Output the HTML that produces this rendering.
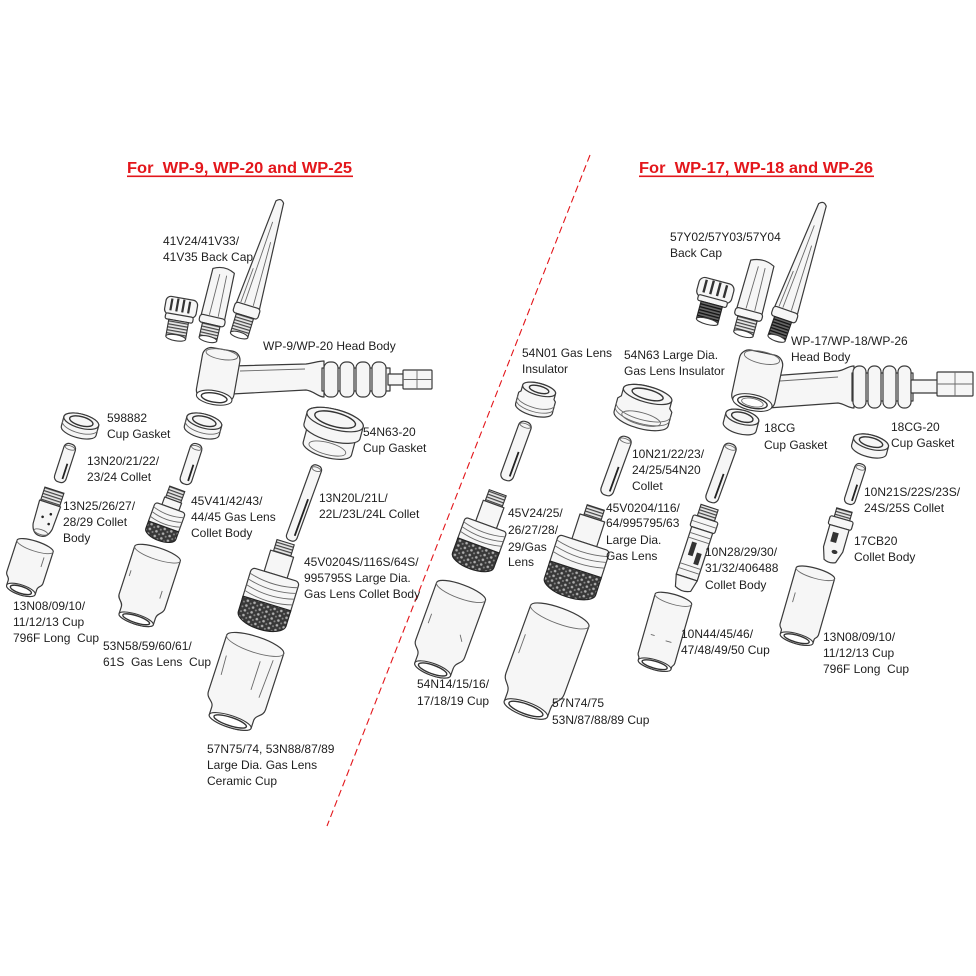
<!DOCTYPE html>
<html><head><meta charset="utf-8"><style>
html,body{margin:0;padding:0;background:#fff;}
svg{display:block}
text{font-family:"Liberation Sans",sans-serif;font-size:12px;fill:#1e1e1e;white-space:pre}
.t{font-size:16px;font-weight:bold;fill:#e3161b}
.p{fill:#f6f6f6;stroke:#3a3a3a;stroke-width:1.2;stroke-linejoin:round}
.w{fill:#fff;stroke:#3a3a3a;stroke-width:1.1}
.l{fill:none;stroke:#6a6a6a;stroke-width:0.9}
.k{fill:none;stroke:#333;stroke-width:1.4}
.th{fill:url(#thr);stroke:#333;stroke-width:1.1}
.thd{fill:url(#thd);stroke:#222;stroke-width:1.1}
.dk{fill:url(#scr);stroke:#222;stroke-width:1.1}
.sl{stroke:#222;stroke-width:1.8;fill:none}
</style></head><body>
<svg width="976" height="976" viewBox="0 0 976 976" xmlns="http://www.w3.org/2000/svg" xml:space="preserve">
<defs>
<pattern id="thr" patternUnits="userSpaceOnUse" width="6" height="3"><rect width="6" height="3" fill="#e6e6e6"/><rect width="6" height="1.2" fill="#444"/></pattern>
<pattern id="thd" patternUnits="userSpaceOnUse" width="6" height="3"><rect width="6" height="3" fill="#666"/><rect width="6" height="1.3" fill="#111"/></pattern>
<pattern id="scr" patternUnits="userSpaceOnUse" width="7" height="5"><rect width="7" height="5" fill="#383838"/><circle cx="2" cy="2" r="1.3" fill="#b0b0b0"/><circle cx="5.5" cy="4" r="1" fill="#888"/></pattern>
</defs>
<rect width="976" height="976" fill="#fff"/>

<!-- titles -->
<text class="t" x="127" y="173" textLength="225" lengthAdjust="spacingAndGlyphs">For  WP-9, WP-20 and WP-25</text>
<rect x="127" y="175.5" width="226" height="1.6" fill="#e3161b"/>
<text class="t" x="639" y="173" textLength="234" lengthAdjust="spacingAndGlyphs">For  WP-17, WP-18 and WP-26</text>
<rect x="639" y="175.5" width="235" height="1.6" fill="#e3161b"/>

<!-- divider -->
<line x1="590" y1="155" x2="327" y2="826" stroke="#e3161b" stroke-width="1.1" stroke-dasharray="7 4"/>

<!-- ===== LEFT SIDE ===== -->
<g transform="translate(259,270) rotate(17)">
<path class="p" d="M-4,-71 Q0,-76 4,-71 L12,38 L-12,38 Z"/>
<path class="l" d="M-1,-50 L-4,36 M3,-30 L5,36 M-6,0 L-8,36"/>
<rect class="p" x="-13" y="37" width="26" height="11" rx="3"/>
<rect class="th" x="-9" y="48" width="18" height="20"/>
<ellipse class="w" cx="0" cy="68" rx="9" ry="3"/>
</g>
<g transform="translate(216,304) rotate(13)">
<path class="p" d="M-11,-34 Q0,-40 11,-34 L12,14 L-12,14 Z"/>
<path class="l" d="M-3,-30 L-4,12 M4,-30 L5,12"/>
<rect class="p" x="-13" y="13" width="26" height="8" rx="3"/>
<rect class="th" x="-9" y="21" width="18" height="15"/>
<ellipse class="w" cx="0" cy="36" rx="9" ry="3"/>
</g>
<g transform="translate(179,319) rotate(10)">
<rect class="p" x="-16" y="-21" width="32" height="18" rx="5"/>
<path d="M-10,-19 v12 M-4,-20 v13 M2,-20 v13 M8,-19 v12" stroke="#333" stroke-width="2.2"/>
<rect class="p" x="-14" y="-4" width="28" height="6" rx="2"/>
<rect class="th" x="-10" y="2" width="20" height="17"/>
<ellipse class="w" cx="0" cy="19" rx="10" ry="3"/>
</g>
<!-- head body left -->
<path class="p" d="M232,366 L306,364 C314,363 318,361 324,361 L324,397 C318,397 314,391 306,390 L232,394 Z"/>
<path class="l" d="M240,371 L305,369"/>
<rect class="p" x="322" y="368" width="68" height="23"/>
<rect class="p" x="324" y="362" width="14" height="35" rx="6"/>
<rect class="p" x="340" y="362" width="14" height="35" rx="6"/>
<rect class="p" x="356" y="362" width="14" height="35" rx="6"/>
<rect class="p" x="372" y="362" width="14" height="35" rx="6"/>
<rect class="p" x="388" y="374" width="16" height="11"/>
<rect class="p" x="403" y="370" width="29" height="19" rx="1"/>
<path class="l" d="M403,379.5 L432,379.5 M417,370 L417,389"/>
<g transform="translate(218,376) rotate(10)">
<rect class="p" x="-19" y="-27" width="38" height="52" rx="9"/>
<ellipse class="l" cx="0" cy="-22" rx="16" ry="5"/>
<ellipse class="w" cx="0" cy="22" rx="18" ry="7"/>
<ellipse class="k" cx="0" cy="22" rx="13" ry="4.5"/>
</g>

<!-- column 1 -->
<g transform="translate(80,426) rotate(15)">
<path class="p" d="M-18,-5 L-18,5 A18,7 0 0 0 18,5 L18,-5 A18,7 0 0 0 -18,-5 Z"/>
<ellipse class="p" cx="0" cy="-5" rx="18" ry="7"/>
<ellipse class="k" cx="0" cy="-5" rx="12" ry="4.5"/>
<path class="l" d="M-18,0 A18,7 0 0 0 18,0"/>
</g>
<g transform="translate(65,463) rotate(18)">
<rect class="p" x="-6" y="-20" width="12" height="40" rx="5"/>
<ellipse class="l" cx="0" cy="-16" rx="5" ry="2"/>
<path class="sl" d="M2.5,0 L2.5,16"/>
</g>
<g transform="translate(47,513) rotate(18)">
<rect class="th" x="-10" y="-24" width="20" height="14"/>
<path class="p" d="M-11,-10 L11,-10 L10,14 Q8,24 0,24 Q-8,24 -10,14 Z"/>
<circle cx="4" cy="0" r="1.3" fill="#222"/><circle cx="-3" cy="5" r="1.3" fill="#222"/><circle cx="5" cy="10" r="1.3" fill="#222"/>
<ellipse class="l" cx="0" cy="20" rx="7" ry="2.5"/>
</g>
<g transform="translate(28,568) rotate(18)">
<path class="p" d="M-19,-23 A19,5 0 0 1 19,-23 L19,10 C19,14 15,14 15,18 L15,23 A15,5 0 0 1 -15,23 L-15,18 C-15,14 -19,14 -19,10 Z"/>
<path class="l" d="M-19,-23 A19,5 0 0 0 19,-23 M12,-15 L12,-5"/>
<ellipse class="w" cx="0" cy="23" rx="15" ry="5"/>
<ellipse class="k" cx="0" cy="23" rx="11" ry="3.5"/>
</g>

<!-- column 2 -->
<g transform="translate(203,426) rotate(15)">
<path class="p" d="M-18,-5 L-18,5 A18,7 0 0 0 18,5 L18,-5 A18,7 0 0 0 -18,-5 Z"/>
<ellipse class="p" cx="0" cy="-5" rx="18" ry="7"/>
<ellipse class="k" cx="0" cy="-5" rx="12" ry="4.5"/>
<path class="l" d="M-18,0 A18,7 0 0 0 18,0"/>
</g>
<g transform="translate(191,464) rotate(18)">
<rect class="p" x="-6" y="-21" width="12" height="42" rx="5"/>
<ellipse class="l" cx="0" cy="-17" rx="5" ry="2"/>
<path class="sl" d="M2.5,0 L2.5,17"/>
</g>
<g transform="translate(167,517) rotate(20)">
<rect class="th" x="-8" y="-30" width="16" height="12"/>
<rect class="p" x="-9" y="-18" width="18" height="8"/>
<rect class="p" x="-16" y="-10" width="32" height="22" rx="3"/>
<path class="l" d="M-16,-5 Q0,0 16,-5 M-16,0 Q0,5 16,0 M-16,5 Q0,10 16,5"/>
<path class="dk" d="M-16,10 L-16,18 A16,7 0 0 0 16,18 L16,10 Z"/>
</g>
<g transform="translate(147,586) rotate(18)">
<path class="p" d="M-24,-34 A24,6 0 0 1 24,-34 L24,16 C24,22 18,22 18,28 L18,35 A18,5 0 0 1 -18,35 L-18,28 C-18,22 -24,22 -24,16 Z"/>
<path class="l" d="M-24,-34 A24,6 0 0 0 24,-34 M-20,-10 L-20,-4 M16,0 L16,8"/>
<ellipse class="w" cx="0" cy="35" rx="18" ry="5"/>
<ellipse class="k" cx="0" cy="35" rx="14" ry="3.5"/>
</g>

<!-- column 3 -->
<g transform="translate(331,435) rotate(15)">
<path class="p" d="M-25,-4 L-25,14 A25,9 0 0 0 25,14 L25,-4 Z"/>
<path class="p" d="M-29,-16 L-29,-4 A29,10 0 0 0 29,-4 L29,-16 A29,10 0 0 0 -29,-16 Z"/>
<ellipse class="p" cx="0" cy="-16" rx="29" ry="10"/>
<ellipse class="k" cx="0" cy="-16" rx="21" ry="7"/>
<ellipse class="l" cx="0" cy="14" rx="19" ry="6"/>
</g>
<g transform="translate(304,503) rotate(20)">
<rect class="p" x="-5.5" y="-40" width="11" height="80" rx="4.5"/>
<ellipse class="l" cx="0" cy="-36" rx="4.5" ry="2"/>
<path class="sl" d="M2.5,-5 L2.5,34"/>
</g>
<g transform="translate(271,590) rotate(17)">
<rect class="th" x="-9" y="-50" width="18" height="12"/>
<rect class="p" x="-12" y="-38" width="24" height="22"/>
<rect class="p" x="-25" y="-16" width="50" height="36" rx="4"/>
<path class="l" d="M-25,-10 Q0,-3 25,-10 M-25,-4 Q0,3 25,-4 M-25,2 Q0,9 25,2 M-25,8 Q0,15 25,8"/>
<path class="dk" d="M-25,14 L-25,30 A25,11 0 0 0 25,30 L25,14 Z"/>
</g>
<g transform="translate(243,682) rotate(18)">
<path class="p" d="M-30,-39.5 A30,8 0 0 1 30,-39.5 L30,19.5 C30,27 22,27 22,33.5 L22,41.5 A22,6 0 0 1 -22,41.5 L-22,33.5 C-22,27 -30,27 -30,19.5 Z"/>
<path class="l" d="M-30,-39.5 A30,8 0 0 0 30,-39.5 M22,-30 L20,10 M-24,-20 L-23,0 M10,-25 L10,5"/>
<ellipse class="w" cx="0" cy="41.5" rx="22" ry="6"/>
<ellipse class="k" cx="0" cy="41.5" rx="17" ry="4.2"/>
</g>

<!-- left labels -->
<text x="163" y="245">41V24/41V33/</text>
<text x="163" y="261">41V35 Back Cap</text>
<text x="263" y="350">WP-9/WP-20 Head Body</text>
<text x="107" y="422">598882</text>
<text x="107" y="438">Cup Gasket</text>
<text x="87" y="465">13N20/21/22/</text>
<text x="87" y="481">23/24 Collet</text>
<text x="63" y="510">13N25/26/27/</text>
<text x="63" y="526">28/29 Collet</text>
<text x="63" y="542">Body</text>
<text x="13" y="610">13N08/09/10/</text>
<text x="13" y="626">11/12/13 Cup</text>
<text x="13" y="642">796F Long  Cup</text>
<text x="191" y="505">45V41/42/43/</text>
<text x="191" y="521">44/45 Gas Lens</text>
<text x="191" y="537">Collet Body</text>
<text x="103" y="650">53N58/59/60/61/</text>
<text x="103" y="666">61S  Gas Lens  Cup</text>
<text x="363" y="436">54N63-20</text>
<text x="363" y="452">Cup Gasket</text>
<text x="319" y="502">13N20L/21L/</text>
<text x="319" y="518">22L/23L/24L Collet</text>
<text x="304" y="566">45V0204S/116S/64S/</text>
<text x="304" y="582">995795S Large Dia.</text>
<text x="304" y="598">Gas Lens Collet Body</text>
<text x="207" y="753">57N75/74, 53N88/87/89</text>
<text x="207" y="769">Large Dia. Gas Lens</text>
<text x="207" y="785">Ceramic Cup</text>

<!-- ===== RIGHT SIDE ===== -->
<g transform="translate(799,273) rotate(19)">
<path class="p" d="M-4,-72 Q0,-77 4,-72 L12,40 L-12,40 Z"/>
<path class="l" d="M-1,-50 L-4,38 M3,-30 L5,38 M-6,0 L-8,38"/>
<rect class="p" x="-13" y="39" width="26" height="10" rx="3"/>
<rect class="thd" x="-9" y="49" width="18" height="20"/>
<ellipse class="w" cx="0" cy="69" rx="9" ry="3"/>
</g>
<g transform="translate(753,298) rotate(15)">
<path class="p" d="M-12,-36 Q0,-42 12,-36 L13,14 L-13,14 Z"/>
<path class="l" d="M-3,-32 L-4,12 M4,-32 L5,12"/>
<rect class="p" x="-14" y="13" width="28" height="8" rx="3"/>
<rect class="th" x="-10" y="21" width="20" height="16"/>
<ellipse class="w" cx="0" cy="37" rx="10" ry="3"/>
</g>
<g transform="translate(712,303) rotate(15)">
<rect class="p" x="-18" y="-23" width="36" height="20" rx="6"/>
<path d="M-11,-21 v13 M-4,-22 v14 M3,-22 v14 M10,-21 v13" stroke="#333" stroke-width="2.4"/>
<rect class="p" x="-15" y="-5" width="30" height="6" rx="2"/>
<rect class="thd" x="-11" y="1" width="22" height="18"/>
<ellipse class="w" cx="0" cy="19" rx="11" ry="3"/>
</g>
<!-- head body right -->
<path class="p" d="M770,376 L838,371 C845,370 848,366 854,366 L854,408 C848,408 845,404 838,403 L768,408 Z"/>
<path class="l" d="M780,381 L838,377"/>
<rect class="p" x="852" y="373" width="61" height="28"/>
<rect class="p" x="853" y="366" width="13" height="42" rx="6"/>
<rect class="p" x="868" y="366" width="13" height="42" rx="6"/>
<rect class="p" x="883" y="366" width="13" height="42" rx="6"/>
<rect class="p" x="898" y="366" width="13" height="42" rx="6"/>
<rect class="p" x="911" y="380" width="28" height="13"/>
<rect class="p" x="937" y="372" width="36" height="24" rx="1"/>
<path class="l" d="M937,384 L973,384 M955,372 L955,396"/>
<g transform="translate(757,381) rotate(12)">
<rect class="p" x="-22" y="-29" width="44" height="56" rx="10"/>
<ellipse class="l" cx="0" cy="-24" rx="18" ry="6"/>
<ellipse class="w" cx="0" cy="22" rx="20" ry="8"/>
<ellipse class="k" cx="0" cy="22" rx="15" ry="5.5"/>
<ellipse class="l" cx="0" cy="22" rx="11" ry="4"/>
</g>

<!-- 54N01 column -->
<g transform="translate(536,401) rotate(15)">
<path class="p" d="M-17,-12 L-17,-6 L-19,-4 L-19,8 A19,7 0 0 0 19,8 L19,-4 L17,-6 L17,-12 A17,6 0 0 0 -17,-12 Z"/>
<ellipse class="p" cx="0" cy="-12" rx="17" ry="6"/>
<ellipse class="k" cx="0" cy="-12" rx="10" ry="3.5"/>
<path class="l" d="M-19,0 A19,7 0 0 0 19,0 M-19,4 A19,7 0 0 0 19,4"/>
</g>
<g transform="translate(516,451) rotate(20)">
<rect class="p" x="-6.5" y="-31" width="13" height="62" rx="5.5"/>
<ellipse class="l" cx="0" cy="-27" rx="5.5" ry="2"/>
<path class="sl" d="M2.8,0 L2.8,26"/>
</g>
<g transform="translate(482,536) rotate(20)">
<rect class="th" x="-9" y="-46" width="18" height="12"/>
<rect class="p" x="-11" y="-34" width="22" height="22"/>
<rect class="p" x="-22" y="-12" width="44" height="26" rx="3"/>
<path class="l" d="M-22,-7 Q0,-1 22,-7 M-22,-2 Q0,4 22,-2 M-22,3 Q0,9 22,3"/>
<path class="dk" d="M-22,10 L-22,26 A22,9 0 0 0 22,26 L22,10 Z"/>
</g>
<g transform="translate(447,630) rotate(20)">
<path class="p" d="M-26,-41 A26,7 0 0 1 26,-41 L26,20 C26,27 19,27 19,34 L19,42 A19,6 0 0 1 -19,42 L-19,34 C-19,27 -26,27 -26,20 Z"/>
<path class="l" d="M-26,-41 A26,7 0 0 0 26,-41 M14,0 L18,6 M-20,-10 L-20,0"/>
<ellipse class="w" cx="0" cy="42" rx="19" ry="6"/>
<ellipse class="k" cx="0" cy="42" rx="15" ry="4.3"/>
</g>

<!-- 54N63 column -->
<g transform="translate(644,408) rotate(15)">
<path class="p" d="M-25,-14 L-25,-6 L-28,-3 L-28,11 A28,10 0 0 0 28,11 L28,-3 L25,-6 L25,-14 A25,8 0 0 0 -25,-14 Z"/>
<ellipse class="p" cx="0" cy="-14" rx="25" ry="8"/>
<ellipse class="k" cx="0" cy="-14" rx="16" ry="5"/>
<path class="l" d="M-28,2 A28,10 0 0 0 28,2 M-28,6 A28,10 0 0 0 28,6"/>
<ellipse class="l" cx="0" cy="11" rx="20" ry="6"/>
</g>
<g transform="translate(616,466) rotate(20)">
<rect class="p" x="-6.5" y="-31" width="13" height="62" rx="5.5"/>
<ellipse class="l" cx="0" cy="-27" rx="5.5" ry="2"/>
<path class="sl" d="M2.8,0 L2.8,26"/>
</g>
<g transform="translate(580,556) rotate(18)">
<rect class="th" x="-9" y="-51" width="18" height="11"/>
<rect class="p" x="-13" y="-40" width="26" height="26"/>
<rect class="p" x="-27" y="-14" width="54" height="34" rx="4"/>
<path class="l" d="M-27,-8 Q0,-1 27,-8 M-27,-2 Q0,5 27,-2 M-27,4 Q0,11 27,4"/>
<path class="dk" d="M-27,14 L-27,32 A27,11 0 0 0 27,32 L27,14 Z"/>
</g>
<g transform="translate(543,662) rotate(20)">
<path class="p" d="M-31,-49 A31,8 0 0 1 31,-49 L31,23 C31,32 23,32 23,41 L23,50 A23,7 0 0 1 -23,50 L-23,41 C-23,32 -31,32 -31,23 Z"/>
<path class="l" d="M-31,-49 A31,8 0 0 0 31,-49 M-26,-20 L-26,0"/>
<ellipse class="w" cx="0" cy="50" rx="23" ry="7"/>
<ellipse class="k" cx="0" cy="50" rx="18" ry="5"/>
</g>

<!-- 18CG column -->
<g transform="translate(741,422) rotate(15)">
<path class="p" d="M-17,-5 L-17,5 A17,7 0 0 0 17,5 L17,-5 A17,7 0 0 0 -17,-5 Z"/>
<ellipse class="p" cx="0" cy="-5" rx="17" ry="7"/>
<ellipse class="k" cx="0" cy="-5" rx="11" ry="4.5"/>
</g>
<g transform="translate(721,473) rotate(20)">
<rect class="p" x="-6.5" y="-31" width="13" height="62" rx="5.5"/>
<ellipse class="l" cx="0" cy="-27" rx="5.5" ry="2"/>
<path class="sl" d="M2.8,0 L2.8,26"/>
</g>
<g transform="translate(696,549) rotate(18)">
<rect class="th" x="-9" y="-44" width="18" height="12"/>
<rect class="p" x="-13" y="-32" width="26" height="12" rx="2"/>
<path class="l" d="M-13,-26 L13,-26"/>
<rect class="p" x="-11" y="-20" width="22" height="50"/>
<path class="l" d="M-11,-14 L11,-14 M-11,-9 L11,-9 M-11,18 L11,18 M-11,23 L11,23"/>
<rect x="-6" y="-6" width="5" height="14" fill="#333"/>
<rect x="2" y="3" width="5" height="12" fill="#333"/>
<path class="p" d="M-11,30 L11,30 L8,42 Q0,46 -8,42 Z"/>
</g>
<g transform="translate(664,632) rotate(16)">
<path class="p" d="M-19,-34 A19,5 0 0 1 19,-34 L19,27 C19,30 17,30 17,32 L17,34 A17,5 0 0 1 -17,34 L-17,32 C-17,30 -19,30 -19,27 Z"/>
<path class="l" d="M-19,-34 A19,5 0 0 0 19,-34 M-12,6 L-8,6 M4,8 L10,8"/>
<ellipse class="w" cx="0" cy="34" rx="17" ry="5"/>
<ellipse class="k" cx="0" cy="34" rx="13" ry="3.5"/>
</g>

<!-- 18CG-20 column -->
<g transform="translate(870,446) rotate(15)">
<path class="p" d="M-18,-4 L-18,4 A18,7 0 0 0 18,4 L18,-4 A18,7 0 0 0 -18,-4 Z"/>
<ellipse class="p" cx="0" cy="-4" rx="18" ry="7"/>
<ellipse class="k" cx="0" cy="-4" rx="12" ry="4.5"/>
</g>
<g transform="translate(855,484) rotate(18)">
<rect class="p" x="-5.5" y="-21" width="11" height="42" rx="4.5"/>
<ellipse class="l" cx="0" cy="-17" rx="4.5" ry="2"/>
<path class="sl" d="M2.3,0 L2.3,17"/>
</g>
<g transform="translate(837,536) rotate(16)">
<rect class="th" x="-8" y="-27" width="16" height="9"/>
<rect class="p" x="-12" y="-18" width="24" height="9" rx="2"/>
<path class="p" d="M-10,-9 L10,-9 L10,14 L6,26 Q0,29 -6,26 L-10,14 Z"/>
<rect x="-5" y="-3" width="6" height="10" fill="#333"/>
<ellipse cx="2" cy="16" rx="3" ry="2" fill="#333"/>
</g>
<g transform="translate(806,606) rotate(16)">
<path class="p" d="M-20,-34 A20,5 0 0 1 20,-34 L20,24 C20,28 17,28 17,30 L17,34 A17,5 0 0 1 -17,34 L-17,30 C-17,28 -20,28 -20,24 Z"/>
<path class="l" d="M-20,-34 A20,5 0 0 0 20,-34 M-14,-10 L-14,0"/>
<ellipse class="w" cx="0" cy="34" rx="17" ry="5"/>
<ellipse class="k" cx="0" cy="34" rx="13" ry="3.5"/>
</g>

<!-- right labels -->
<text x="670" y="241">57Y02/57Y03/57Y04</text>
<text x="670" y="257">Back Cap</text>
<text x="791" y="345">WP-17/WP-18/WP-26</text>
<text x="791" y="361">Head Body</text>
<text x="522" y="357">54N01 Gas Lens</text>
<text x="522" y="373">Insulator</text>
<text x="624" y="359">54N63 Large Dia.</text>
<text x="624" y="375">Gas Lens Insulator</text>
<text x="764" y="432">18CG</text>
<text x="764" y="449">Cup Gasket</text>
<text x="891" y="431">18CG-20</text>
<text x="891" y="447">Cup Gasket</text>
<text x="632" y="458">10N21/22/23/</text>
<text x="632" y="474">24/25/54N20</text>
<text x="632" y="490">Collet</text>
<text x="864" y="496">10N21S/22S/23S/</text>
<text x="864" y="512">24S/25S Collet</text>
<text x="508" y="517">45V24/25/</text>
<text x="508" y="534">26/27/28/</text>
<text x="508" y="551">29/Gas</text>
<text x="508" y="566">Lens</text>
<text x="606" y="512">45V0204/116/</text>
<text x="606" y="527">64/995795/63</text>
<text x="606" y="544">Large Dia.</text>
<text x="606" y="560">Gas Lens</text>
<text x="854" y="545">17CB20</text>
<text x="854" y="561">Collet Body</text>
<text x="705" y="556">10N28/29/30/</text>
<text x="705" y="572">31/32/406488</text>
<text x="705" y="589">Collet Body</text>
<text x="681" y="638">10N44/45/46/</text>
<text x="681" y="654">47/48/49/50 Cup</text>
<text x="823" y="641">13N08/09/10/</text>
<text x="823" y="657">11/12/13 Cup</text>
<text x="823" y="673">796F Long  Cup</text>
<text x="417" y="688">54N14/15/16/</text>
<text x="417" y="705">17/18/19 Cup</text>
<text x="552" y="707">57N74/75</text>
<text x="552" y="724">53N/87/88/89 Cup</text>
</svg>
</body></html>
